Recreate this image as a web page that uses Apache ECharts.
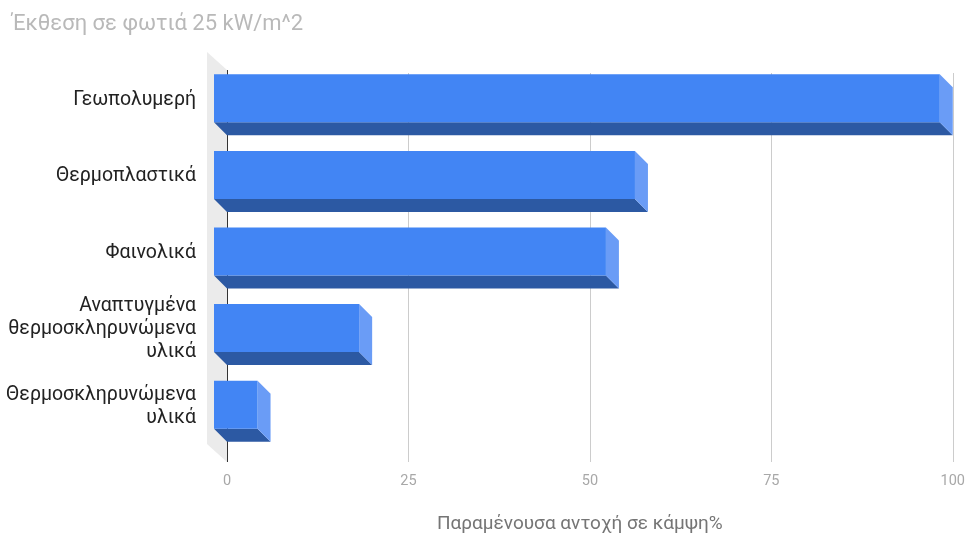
<!DOCTYPE html>
<html><head><meta charset="utf-8">
<script src="https://cdn.jsdelivr.net/npm/echarts@6/dist/echarts.min.js"></script>
<style>html,body{margin:0;padding:0;background:#fff}#c{width:968px;height:539px}</style>
</head><body><div id="c"></div>
<script>
const titleText = 'Έκθεση σε φωτιά 25 kW/m^2';
const xAxisName = 'Παραμένουσα αντοχή σε κάμψη%';
const categories = ['Γεωπολυμερή', 'Θερμοπλαστικά', 'Φαινολικά', 'Αναπτυγμένα\nθερμοσκληρυνώμενα\nυλικά', 'Θερμοσκληρυνώμενα\nυλικά'];
const values = [100, 58, 54, 20, 6];
const xTicks = [0, 25, 50, 75, 100];

const DEPTH = 13, BAR_H = 48;
const chart = echarts.init(document.getElementById('c'), null, {renderer: 'canvas'});
const FONT = 'Roboto, "Noto Sans", sans-serif';

function renderBar(params, api) {
  const v = api.value(0), idx = api.value(1);
  const p0 = api.coord([0, idx]);
  const p1 = api.coord([v, idx]);
  const x0 = p0[0], x1 = p1[0], cy = p0[1];
  const yt = cy - BAR_H / 2, yb = cy + BAR_H / 2, d = DEPTH;
  return {
    type: 'group',
    children: [
      {type: 'polygon', shape: {points: [[x0 - d, yb - d], [x1 - d, yb - d], [x1, yb], [x0, yb]]}, style: {fill: '#2c59a3'}},
      {type: 'polygon', shape: {points: [[x1 - d, yt - d], [x1, yt], [x1, yb], [x1 - d, yb - d]]}, style: {fill: '#6a9cf6'}},
      {type: 'rect', shape: {x: x0 - d, y: yt - d, width: x1 - x0, height: BAR_H}, style: {fill: '#4285f4'}}
    ]
  };
}

function renderWall(params, api) {
  const top = api.coord([0, 0]);
  const bot = api.coord([0, categories.length - 1]);
  const band = api.size([0, 1])[1];
  const x = top[0];
  const yTop = top[1] - band / 2 - 3;
  const yBot = bot[1] + band / 2 + 6;
  return {
    type: 'group',
    children: [
      {type: 'polygon', shape: {points: [[x, yTop], [x, yBot], [x - 20, yBot - 18], [x - 20, yTop - 18]]}, style: {fill: '#ebebeb'}},
      {type: 'line', shape: {x1: x + 0.5, y1: yTop, x2: x + 0.5, y2: yBot}, style: {stroke: '#333', lineWidth: 1}}
    ]
  };
}

chart.setOption({
  animation: false,
  backgroundColor: '#fff',
  title: {text: titleText, left: 7, top: 8, textStyle: {color: '#b9b9b9', fontSize: 22, fontWeight: 'normal', fontFamily: FONT}},
  grid: {left: 227, right: 15, top: 73, bottom: 80},
  xAxis: {
    type: 'value', min: 0, max: 100, interval: 25,
    name: xAxisName, nameLocation: 'middle', nameGap: 59,
    nameTextStyle: {color: '#757575', fontSize: 19, fontFamily: FONT, padding: [0, 20, 0, 0]},
    axisLine: {show: false},
    axisTick: {show: true, length: 6, lineStyle: {color: '#cccccc'}},
    axisLabel: {color: '#a8a8a8', fontSize: 14.5, fontFamily: FONT, margin: 18,
      formatter: v => xTicks.includes(v) ? String(v) : ''},
    splitLine: {show: true, lineStyle: {color: '#cccccc'}}
  },
  yAxis: {
    type: 'category', data: categories, inverse: true,
    axisLine: {show: false}, axisTick: {show: false},
    axisLabel: {color: '#222', fontSize: 19.5, fontFamily: FONT, margin: 31, lineHeight: 23, align: 'right',
      interval: 0, hideOverlap: false, formatter: v => v + '\n '}
  },
  series: [
    {type: 'custom', renderItem: renderWall, data: [[0, 0]], z: 1, silent: true},
    {type: 'custom', renderItem: renderBar, data: values.map((v, i) => [v, i]), encode: {x: 0, y: 1}, z: 2}
  ]
});
</script></body></html>
